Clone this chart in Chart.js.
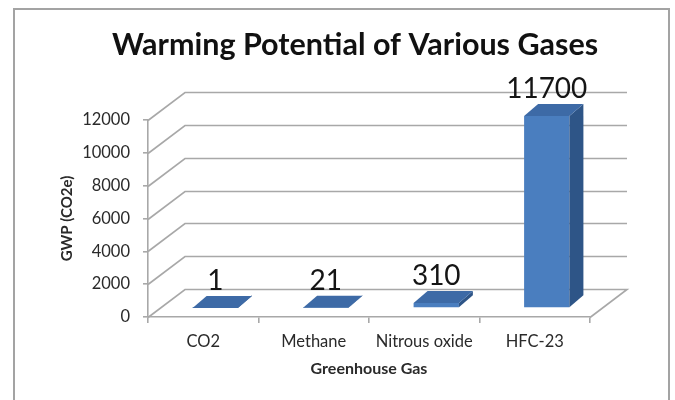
<!DOCTYPE html>
<html>
<head>
<meta charset="utf-8">
<style>
  html, body { margin: 0; padding: 0; background: #fff; }
  #wrap { width: 675px; height: 400px; }
</style>
<script src="https://cdn.jsdelivr.net/npm/chart.js@4.4.1/dist/chart.umd.min.js"></script>
</head>
<body>
<div id="wrap"><canvas id="c" width="675" height="400"></canvas></div>
<script>
// Global warming potential, CO2 equivalent
const gases = ['CO2', 'Methane', 'Nitrous oxide', 'HFC-23'];
const gwp = [1, 21, 310, 11700];
const yMax = 12000;
const yStep = 2000;

const chartTitle = 'Warming Potential of Various Gases';

// 3D look: back wall offset, bar offset into the floor, bar depth
const WALL = { dx: 37, dy: -28 };
const BAR_OFF = { dx: 12, dy: -9 };
const BAR_DEPTH = { dx: 14, dy: -12 };

const GRID = '#a8a8a8';
const FRONT = '#4a7ebf';
const TOP = '#3d6aa6';
const SIDE = '#2e5587';
const TEXT = '#2a2a2a';
const FONT = 'Lato, "Open Sans", sans-serif';

// white page with a grey frame, and the heading
const framePlugin = {
  id: 'frame',
  beforeDraw(chart) {
    const ctx = chart.ctx;
    ctx.save();
    ctx.fillStyle = '#fff';
    ctx.fillRect(0, 0, chart.width, chart.height);
    ctx.strokeStyle = '#a3a3a3';
    ctx.lineWidth = 2;
    ctx.strokeRect(14, 9, 655, 420);
    ctx.restore();
  },
  afterDraw(chart) {
    const ctx = chart.ctx;
    ctx.save();
    ctx.fillStyle = '#111';
    ctx.font = 'bold 30.5px ' + FONT;
    ctx.textAlign = 'center';
    ctx.textBaseline = 'middle';
    ctx.fillText(chartTitle, 355, 45);
    ctx.restore();
  }
};

// side wall, back wall and floor lines, then the bar faces
const boxPlugin = {
  id: 'box3d',
  beforeDatasetsDraw(chart) {
    const { ctx, chartArea: a, scales: { y } } = chart;
    ctx.save();
    ctx.strokeStyle = GRID;
    ctx.lineWidth = 1.6;
    y.ticks.forEach(t => {
      const py = Math.round(y.getPixelForValue(t.value)) + 0.5;
      ctx.beginPath();
      ctx.moveTo(a.left, py);
      ctx.lineTo(a.left + WALL.dx, py + WALL.dy);
      ctx.lineTo(a.right + WALL.dx, py + WALL.dy);
      if (t.value === 0) ctx.lineTo(a.right, py);
      ctx.stroke();
    });
    ctx.restore();
    ctx.save();
    ctx.translate(BAR_OFF.dx, BAR_OFF.dy);
  },
  afterDatasetsDraw(chart) {
    const ctx = chart.ctx;
    const meta = chart.getDatasetMeta(0);
    const values = chart.data.datasets[0].data;
    meta.data.forEach(el => {
      const { x, y, base, width } = el.getProps(['x', 'y', 'base', 'width'], true);
      const l = x - width / 2, r = x + width / 2;
      ctx.fillStyle = SIDE;
      ctx.beginPath();
      ctx.moveTo(r, y);
      ctx.lineTo(r + BAR_DEPTH.dx, y + BAR_DEPTH.dy);
      ctx.lineTo(r + BAR_DEPTH.dx, base + BAR_DEPTH.dy);
      ctx.lineTo(r, base);
      ctx.closePath();
      ctx.fill();
      ctx.fillStyle = TOP;
      ctx.beginPath();
      ctx.moveTo(l, y);
      ctx.lineTo(r, y);
      ctx.lineTo(r + BAR_DEPTH.dx, y + BAR_DEPTH.dy);
      ctx.lineTo(l + BAR_DEPTH.dx, y + BAR_DEPTH.dy);
      ctx.closePath();
      ctx.fill();
    });
    ctx.restore();

    // value labels above each bar
    ctx.save();
    ctx.fillStyle = '#151515';
    ctx.font = '28px ' + FONT;
    ctx.textAlign = 'center';
    ctx.textBaseline = 'alphabetic';
    meta.data.forEach((el, i) => {
      const { x, y } = el.getProps(['x', 'y'], true);
      ctx.fillText(String(values[i]), x + BAR_OFF.dx, y + BAR_OFF.dy + BAR_DEPTH.dy - 6);
    });
    ctx.restore();
  }
};

new Chart(document.getElementById('c'), {
  type: 'bar',
  data: {
    labels: gases,
    datasets: [{
      data: gwp,
      backgroundColor: FRONT,
      borderWidth: 0,
      barPercentage: 0.41,
      categoryPercentage: 1,
      clip: false
    }]
  },
  options: {
    responsive: false,
    animation: false,
    events: [],
    layout: { padding: { left: 20, right: 85, top: 120, bottom: 18 } },
    plugins: {
      legend: { display: false },
      tooltip: { enabled: false },
      title: { display: false }
    },
    scales: {
      x: {
        offset: true,
        grid: { drawOnChartArea: false, drawTicks: true, tickLength: 6, color: GRID, lineWidth: 1.6 },
        border: { color: GRID, width: 1.6 },
        ticks: { font: { family: FONT, size: 16.5 }, color: TEXT, padding: 9, maxRotation: 0 },
        title: {
          display: true, text: 'Greenhouse Gas', color: TEXT,
          font: { family: FONT, size: 16, weight: 'bold' },
          padding: { top: 0, bottom: 4 }
        },
        afterFit(s) { s.height = 65; }
      },
      y: {
        min: 0,
        max: yMax,
        ticks: {
          stepSize: yStep,
          font: { family: FONT, size: 16.5 },
          color: TEXT,
          padding: 13,
          callback: v => String(v)
        },
        grid: { drawOnChartArea: false, drawTicks: true, tickLength: 5, color: GRID, lineWidth: 1.6 },
        border: { color: GRID, width: 1.6 },
        title: {
          display: true, text: 'GWP (CO2e)', color: TEXT,
          font: { family: FONT, size: 15, weight: 'bold' },
          padding: { top: 38, bottom: 0 }
        },
        afterFit(s) { s.width = 128; }
      }
    }
  },
  plugins: [framePlugin, boxPlugin]
});
</script>
</body>
</html>
